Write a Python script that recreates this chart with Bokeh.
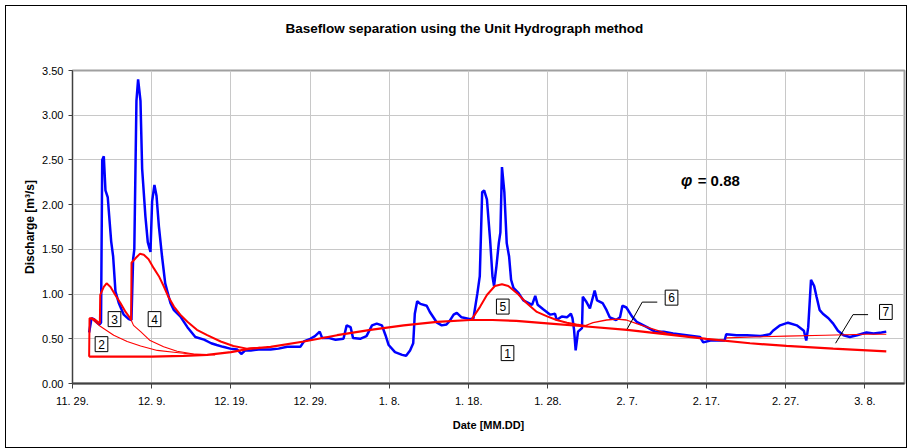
from bokeh.plotting import figure
from bokeh.models import FixedTicker, NumeralTickFormatter, Label, Range1d, InlineStyleSheet, Title
from bokeh.embed import file_html
from bokeh.resources import INLINE

# ---- data (days since Nov 29) ----
tick_days = [0, 10, 20, 30, 40, 50, 60, 70, 80, 90, 100]
tick_labels = ["11. 29.", "12. 9.", "12. 19.", "12. 29.", "1. 8.", "1. 18.",
               "1. 28.", "2. 7.", "2. 17.", "2. 27.", "3. 8."]

obs_day = [2.1, 2.4, 2.7, 3.0, 3.4, 3.6, 3.75, 3.95, 4.16, 4.45, 4.88, 5.13, 5.42, 5.84,
           6.47, 7.1, 7.44, 7.65, 7.8, 8.07, 8.28, 8.58, 8.79, 9.2, 9.5, 9.84, 10.05,
           10.34, 10.6, 10.9, 11.3, 11.7, 12.36, 12.8, 13.6, 14.5, 15.5, 16.6, 17.5,
           18.2, 19.0, 19.9, 20.8, 21.3, 21.8, 22.5, 23.5, 25.0, 26.0, 27.1, 28.2,
           28.75, 29.2, 30.0, 30.6, 31.2, 31.5, 32.3, 33.2, 34.2, 34.6, 35.1, 35.4,
           36.3, 37.1, 37.8, 38.4, 39.05, 39.5, 39.9, 40.7, 41.6, 42.1, 42.6, 43.0,
           43.2, 43.5, 43.9, 44.7, 45.1, 46.0, 46.6, 47.2, 47.6, 48.1, 48.5, 49.1,
           50.2, 50.6, 51.1, 51.4, 51.7, 51.95, 52.3, 52.7, 53.0, 53.2, 53.5, 53.8,
           54.0, 54.2, 54.5, 54.8, 55.1, 55.35, 55.65, 56.3, 56.9, 58.0, 58.4, 58.7,
           59.4, 60.3, 60.9, 61.1, 61.75, 62.4, 62.9, 63.1, 63.3, 63.5, 63.8, 64.3,
           64.4, 64.8, 65.3, 65.9, 66.2, 66.9, 67.4, 67.8, 68.6, 69.1, 69.4, 69.9,
           70.6, 71.2, 72.5, 73.5, 74.6, 75.8, 77.5, 79.2, 79.6, 80.5, 82.3, 82.5,
           83.8, 85.1, 86.8, 88.0, 88.4, 89.3, 90.3, 91.4, 92.3, 92.6, 92.85, 93.2,
           93.6, 93.9, 94.3, 94.7, 95.4, 96.0, 96.6, 97.3, 98.1, 99.0, 100.2, 101.1,
           102.1, 102.7]
obs_q = [0.57, 0.73, 0.72, 0.69, 0.66, 0.68, 2.50, 2.54, 2.16, 2.08, 1.59, 1.42, 1.03, 0.90,
         0.77, 0.72, 0.71, 1.39, 1.50, 3.16, 3.40, 3.16, 2.40, 1.87, 1.58, 1.47, 2.04,
         2.22, 2.10, 1.76, 1.42, 1.12, 0.90, 0.82, 0.75, 0.63, 0.52, 0.49, 0.45,
         0.43, 0.41, 0.39, 0.38, 0.33, 0.37, 0.37, 0.38, 0.38, 0.39, 0.41, 0.41,
         0.41, 0.47, 0.50, 0.53, 0.58, 0.51, 0.51, 0.49, 0.50, 0.65, 0.63, 0.51,
         0.50, 0.53, 0.65, 0.67, 0.65, 0.54, 0.43, 0.35, 0.32, 0.31, 0.37, 0.45,
         0.78, 0.92, 0.89, 0.87, 0.80, 0.68, 0.65, 0.66, 0.70, 0.77, 0.79, 0.74,
         0.72, 0.73, 1.01, 1.20, 2.14, 2.16, 2.06, 1.61, 1.20, 1.09, 1.31, 1.57,
         1.69, 2.42, 2.14, 1.57, 1.42, 1.16, 1.07, 1.01, 0.93, 0.88, 0.98, 0.88,
         0.83, 0.77, 0.78, 0.71, 0.75, 0.74, 0.78, 0.73, 0.60, 0.37, 0.58, 0.62,
         0.97, 0.92, 0.84, 1.04, 0.93, 0.90, 0.82, 0.74, 0.71, 0.74, 0.87, 0.85,
         0.75, 0.69, 0.63, 0.58, 0.58, 0.56, 0.54, 0.52, 0.46, 0.48, 0.48, 0.55,
         0.54, 0.54, 0.53, 0.55, 0.59, 0.65, 0.68, 0.65, 0.59, 0.48, 0.63, 1.16,
         1.09, 0.97, 0.82, 0.78, 0.73, 0.67, 0.59, 0.54, 0.52, 0.54, 0.57, 0.56,
         0.57, 0.58]

base_day = [2.1, 10.0, 14.0, 17.0, 20.0, 22.4, 25.0, 29.2, 33.4, 37.6, 41.8, 46.0, 50.2,
            53.0, 56.0, 60.3, 64.5, 70.0, 75.0, 80.0, 85.5, 90.1, 96.0, 102.7]
base_q = [0.30, 0.30, 0.31, 0.32, 0.35, 0.39, 0.41, 0.47, 0.54, 0.60, 0.65, 0.69, 0.71,
          0.71, 0.70, 0.67, 0.64, 0.60, 0.55, 0.50, 0.45, 0.42, 0.39, 0.36]

env_day = [2.1, 2.15, 2.4, 2.9, 3.45, 3.5, 3.95, 4.3, 4.8, 5.4, 6.05, 6.7, 7.2, 7.4, 7.45,
           7.95, 8.5, 9.0, 9.6, 10.25, 10.9, 11.5, 12.1, 12.8, 13.6, 14.5, 15.7, 17.0,
           18.7, 20.3, 22.0, 23.7]
env_q = [0.30, 0.73, 0.73, 0.71, 0.67, 0.99, 1.08, 1.12, 1.08, 0.99, 0.90, 0.80, 0.74, 0.71,
         1.35, 1.40, 1.45, 1.44, 1.39, 1.29, 1.20, 1.09, 0.97, 0.86, 0.77, 0.69, 0.60,
         0.54, 0.47, 0.42, 0.39, 0.40]

ev2_day = [2.3, 3.5, 5.2, 6.9, 8.6, 10.7, 12.8, 14.9, 17.0]
ev2_q = [0.73, 0.64, 0.54, 0.47, 0.42, 0.37, 0.35, 0.33, 0.32]

ev3_day = [7.4, 7.7, 8.6, 9.8, 11.5, 13.2, 15.3, 18.0]
ev3_q = [0.71, 0.65, 0.58, 0.48, 0.41, 0.36, 0.33, 0.32]

ev5_day = [50.4, 51.45, 52.3, 53.3, 54.2, 55.0, 56.1, 57.3, 58.6, 59.9, 61.1, 62.4, 63.6, 65.0]
ev5_q = [0.72, 0.86, 0.99, 1.09, 1.11, 1.09, 1.01, 0.90, 0.80, 0.75, 0.71, 0.68, 0.66, 0.64]

ev6_day = [64.5, 65.7, 67.4, 68.7, 69.9, 71.2, 72.9, 75.0, 77.0, 79.2]
ev6_q = [0.64, 0.68, 0.71, 0.72, 0.71, 0.67, 0.62, 0.56, 0.53, 0.51]

ev7_day = [82.5, 86.0, 90.0, 95.0, 100.0, 102.7]
ev7_q = [0.51, 0.52, 0.53, 0.54, 0.55, 0.55]

lead6_day = [70.0, 71.9, 73.8]
lead6_q = [0.61, 0.91, 0.91]
lead7_day = [96.3, 98.5, 100.4]
lead7_q = [0.45, 0.77, 0.77]

box_text = ["1", "2", "3", "4", "5", "6", "7"]
box_day = [54.9, 3.66, 5.3, 10.35, 54.3, 75.6, 102.65]
box_q = [0.34, 0.44, 0.72, 0.72, 0.86, 0.96, 0.80]

FONT = "Liberation Sans"

p = figure(width=907, height=448, output_backend="svg", toolbar_location=None,
           x_range=Range1d(0, 105), y_range=Range1d(0, 3.5),
           min_border_left=72, min_border_right=3, min_border_top=0, min_border_bottom=65)
p.border_fill_color = None
p.background_fill_color = "white"
p.styles = {"background-color": "white"}
p.stylesheets = [InlineStyleSheet(css=(
    ":host::after { content: ''; position: absolute; left: 5px; top: 5px; right: 0px;"
    " bottom: 0px; border: 1px solid #000000; pointer-events: none; z-index: 50; }"))]
p.outline_line_color = "#A0A0A0"
p.outline_line_width = 2

# chart title (outer panel)
p.title.text = "Baseflow separation using the Unit Hydrograph method"
p.title.align = "left"
p.title.offset = 213
p.title.text_font = FONT
p.title.text_font_size = "13.5px"
p.title.text_font_style = "bold"
p.title.text_color = "#000000"
p.title.standoff = 36
# blank title as spacer between the chart title and the plot area
p.add_layout(Title(text=" ", text_font=FONT, text_font_size="13.5px", standoff=0), "above")

# grid
p.xgrid.ticker = FixedTicker(ticks=tick_days)
p.ygrid.ticker = FixedTicker(ticks=[0, 0.5, 1, 1.5, 2, 2.5, 3, 3.5])
for g in (p.xgrid, p.ygrid):
    g.grid_line_color = "#C8C8C8"
    g.grid_line_width = 1

# axes
p.xaxis.ticker = FixedTicker(ticks=tick_days)
p.xaxis.major_label_overrides = {d: t for d, t in zip(tick_days, tick_labels)}
p.yaxis.ticker = FixedTicker(ticks=[0, 0.5, 1, 1.5, 2, 2.5, 3, 3.5])
p.yaxis.formatter = NumeralTickFormatter(format="0.00")
for ax in (p.xaxis, p.yaxis):
    ax.minor_tick_line_color = None
    ax.major_tick_in = 0
    ax.major_label_text_font = FONT
    ax.major_label_text_font_size = "11px"
    ax.major_label_text_color = "#000000"
    ax.axis_label_text_font = FONT
    ax.axis_label_text_font_size = "11px"
    ax.axis_label_text_font_style = "bold"
    ax.axis_label_text_color = "#000000"
p.xaxis.axis_line_width = 2
p.xaxis.axis_line_color = "#404040"
p.xaxis.major_tick_line_color = "#404040"
p.xaxis.major_tick_out = 5
p.xaxis.major_label_standoff = 6
p.xaxis.axis_label = "Date [MM.DD]"
p.xaxis.axis_label_standoff = 9
p.yaxis.axis_line_color = "#404040"
p.yaxis.major_tick_line_color = "#404040"
p.yaxis.major_tick_out = 4
p.yaxis.major_label_standoff = 5
p.yaxis.axis_label = "Discharge [m³/s]"
p.yaxis.axis_label_text_font_size = "12px"
p.yaxis.axis_label_standoff = 2

# series
p.line(obs_day, obs_q, line_color="#0000FF", line_width=2.5)
p.line(base_day, base_q, line_color="#FF0000", line_width=2.2)
p.line(env_day, env_q, line_color="#FF0000", line_width=2.0)
p.line(ev2_day, ev2_q, line_color="#FF0000", line_width=1.1)
p.line(ev3_day, ev3_q, line_color="#FF0000", line_width=1.1)
p.line(ev5_day, ev5_q, line_color="#FF0000", line_width=2.0)
p.line(ev6_day, ev6_q, line_color="#FF0000", line_width=1.3)
p.line(ev7_day, ev7_q, line_color="#FF0000", line_width=1.1)
p.line(lead6_day, lead6_q, line_color="#000000", line_width=1)
p.line(lead7_day, lead7_q, line_color="#000000", line_width=1)

for t, d, q in zip(box_text, box_day, box_q):
    p.add_layout(Label(x=d, y=q, text=t, text_align="center", text_baseline="middle",
                       text_font=FONT, text_font_size="12px", text_color="#000000",
                       padding=3, border_line_color="#000000", border_line_width=1,
                       background_fill_color="white"))

p.add_layout(Label(x=76.8, y=2.27, text="φ", text_align="left", text_baseline="middle",
                   text_font=FONT, text_font_size="16px", text_font_style="bold italic",
                   text_color="#000000"))
p.add_layout(Label(x=78.9, y=2.27, text="= 0.88", text_align="left", text_baseline="middle",
                   text_font=FONT, text_font_size="15px", text_font_style="bold",
                   text_color="#000000"))

open("out.html", "w").write(file_html(p, INLINE))
